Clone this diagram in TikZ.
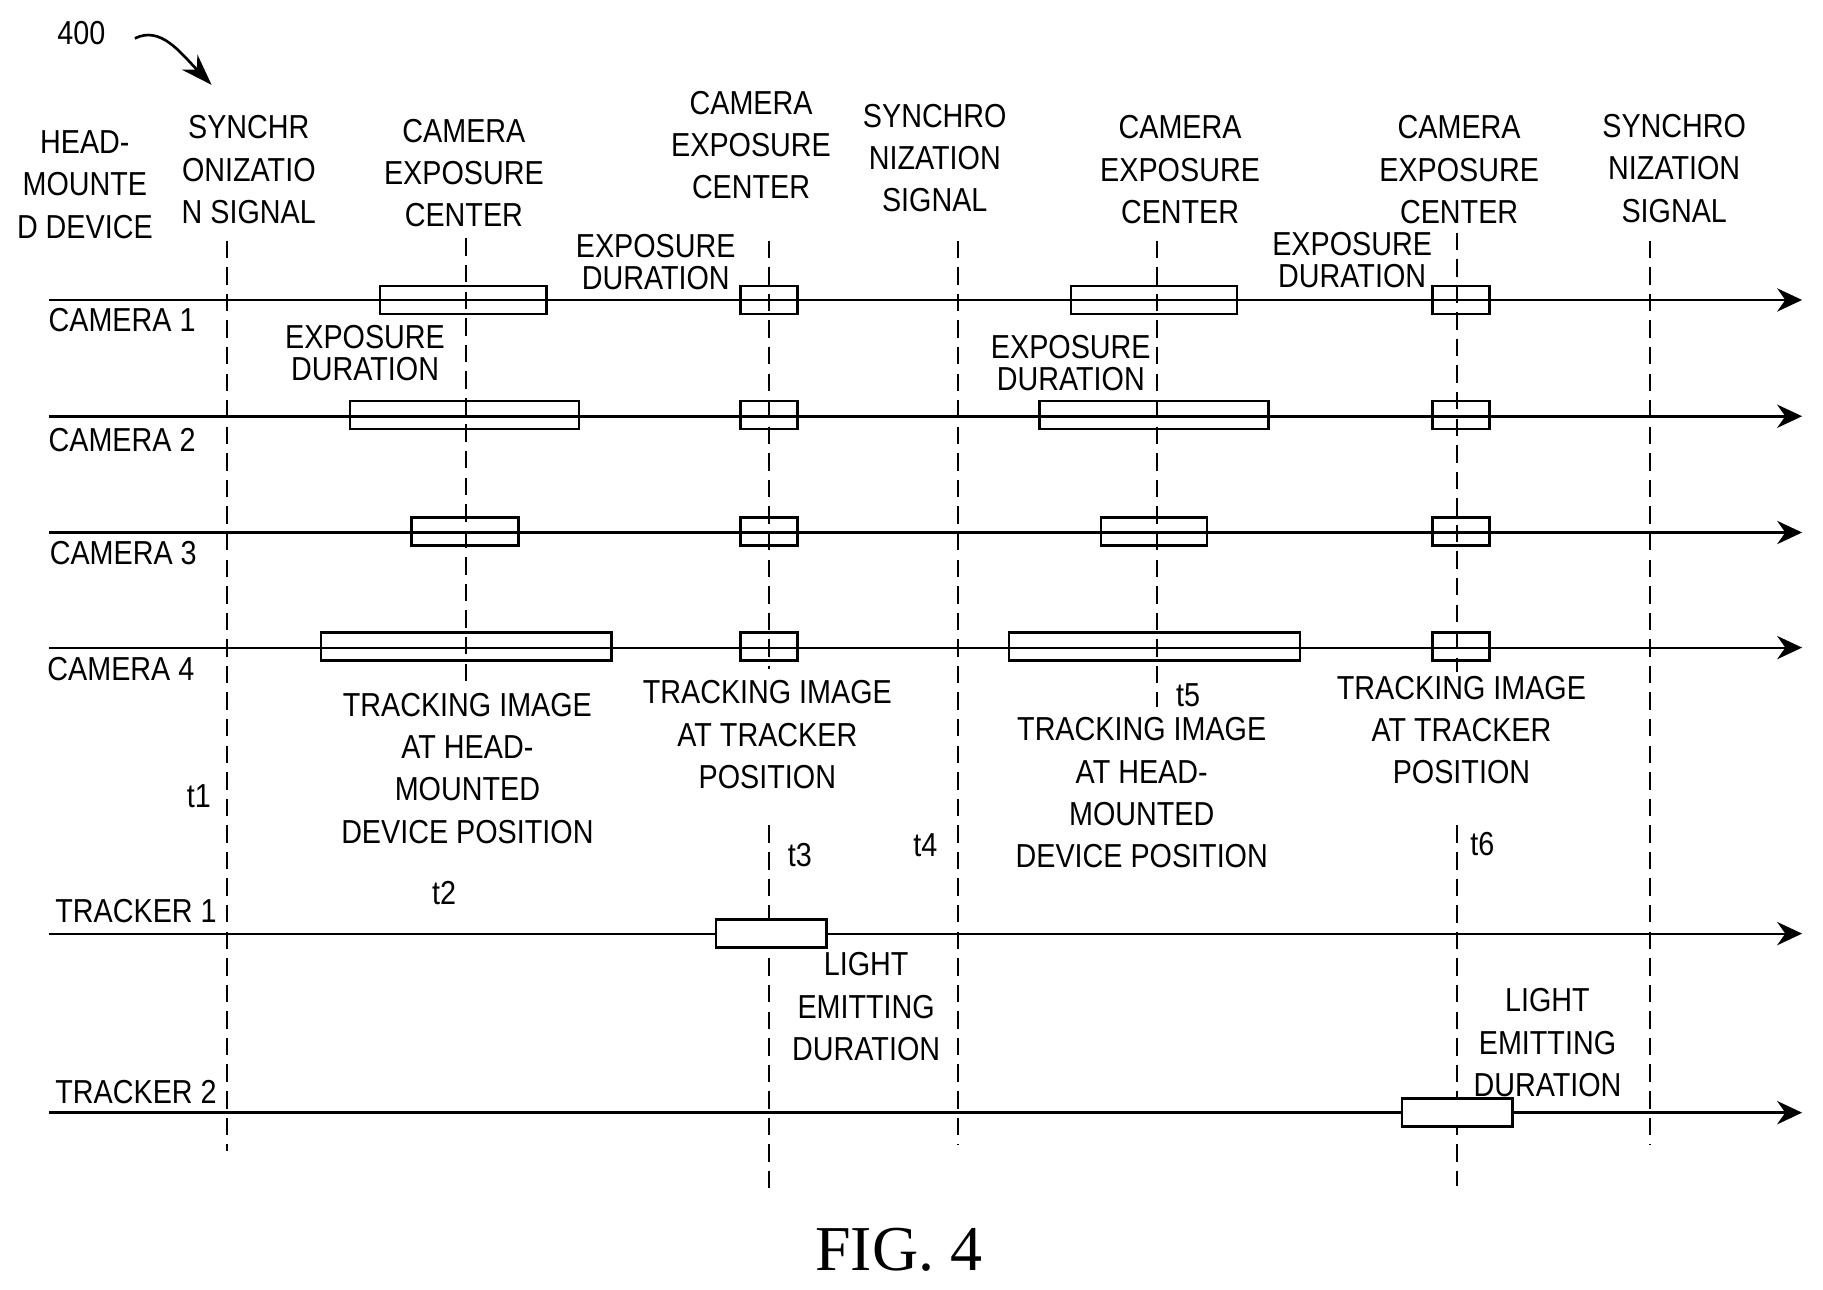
\documentclass[tikz,border=0pt]{standalone}
\usepackage{fontspec}
\usetikzlibrary{arrows.meta}
\setmainfont{Liberation Sans}
\newfontfamily\narrowsans[FakeStretch=0.865]{Liberation Sans}
\newfontfamily\figserif{Liberation Serif}
\tikzset{
  lbl/.style={inner sep=0pt,align=center,text=black,yshift=-0.6pt,font=\narrowsans\fontsize{20}{25.5}\selectfont},
  lbltight/.style={inner sep=0pt,align=center,text=black,yshift=-0.4pt,font=\narrowsans\fontsize{20}{19.2}\selectfont},
  timeline/.style={draw=black,line width=1.7pt,-{Stealth[length=15pt,width=14pt]}},
  thinline/.style={timeline,line width=1.3pt},
  marker/.style={draw=black,line width=1.2pt,dash pattern=on 10.5pt off 5.5pt},
  dbox/.style={draw=black,line width=1.5pt,inner sep=0pt,minimum height=16.8pt},
  tbox/.style={dbox,fill=white}
}
\newcommand{\durbox}[5][dbox]{\node[#1,minimum width={(#4-#3)*0.7pt}] (#2) at ({(#3+#4)/2},#5) {};}
\begin{document}
\begin{tikzpicture}[x=0.7pt,y=-0.7pt]
\useasboundingbox (0,0) rectangle (1568,1109.5);
\fill[white] (0,0) rectangle (1568,1109.5);
% row end points
\foreach \n/\y in {c1/258,c2/358,c3/458,c4/557,t1/803,t2/957}{
  \coordinate (\n s) at (42,\y);
  \coordinate (\n e) at (1550,\y);
}
% marker end points
\coordinate (sa) at (195,207); \coordinate (sb) at (195,990);
\coordinate (xa) at (401,205); \coordinate (xb) at (401,588);
\coordinate (ya) at (661,207); \coordinate (yb) at (661,575);
\coordinate (yc) at (661,710); \coordinate (yd) at (661,1025);
\coordinate (ra) at (824,207); \coordinate (rb) at (824,985);
\coordinate (ua) at (995,207); \coordinate (ub) at (995,608);
\coordinate (va) at (1253,200); \coordinate (vb) at (1253,578);
\coordinate (vc) at (1253,710); \coordinate (vd) at (1253,1020);
\coordinate (wa) at (1419,207); \coordinate (wb) at (1419,985);
\coordinate (arra) at (116,33); \coordinate (arrb) at (182,73);
% timelines
\draw[thinline] (c1s) -- (c1e);
\draw[timeline] (c2s) -- (c2e);
\draw[thinline] (c3s) -- (c3e);
\draw[thinline] (c4s) -- (c4e);
\draw[thinline] (t1s) -- (t1e);
\draw[timeline] (t2s) -- (t2e);
% exposure boxes
\durbox{b11}{327}{470}{258}
\durbox{b12}{637}{686}{258}
\durbox{b13}{921}{1064}{258}
\durbox{b14}{1232}{1281}{258}
\durbox{b21}{301}{498}{357}
\durbox{b22}{637}{686}{357}
\durbox{b23}{894}{1091}{357}
\durbox{b24}{1232}{1281}{357}
\durbox{b31}{354}{446}{457}
\durbox{b32}{637}{686}{457}
\durbox{b33}{947}{1038}{457}
\durbox{b34}{1232}{1281}{457}
\durbox{b41}{276}{526}{556}
\durbox{b42}{637}{686}{556}
\durbox{b43}{868}{1118}{556}
\durbox{b44}{1232}{1281}{556}
% vertical markers
\draw[marker] (sa) -- (sb);
\draw[marker] (xa) -- (xb);
\draw[marker] (ya) -- (yb);
\draw[marker] (yc) -- (yd);
\draw[marker] (ra) -- (rb);
\draw[marker] (ua) -- (ub);
\draw[marker] (va) -- (vb);
\draw[marker] (vc) -- (vd);
\draw[marker] (wa) -- (wb);
% tracker boxes
\durbox[tbox]{e1}{616}{711}{803}
\durbox[tbox]{e2}{1206}{1301}{957}
% reference arrow
\node[lbl] (ref) at (70,28) {400};
\draw[line width=1.6pt,-{Stealth[length=19pt,width=13pt]}] (arra) .. controls (138,22) and (155,45) .. (arrb);
% headers
\node[lbl] (hmd) at (73,158) {HEAD-\\MOUNTE\\D DEVICE};
\node[lbl] (s1) at (214,145) {SYNCHR\\ONIZATIO\\N SIGNAL};
\node[lbl] (cec1) at (399,148) {CAMERA\\EXPOSURE\\CENTER};
\node[lbl] (cec2) at (646,124) {CAMERA\\EXPOSURE\\CENTER};
\node[lbl] (s2) at (804,135) {SYNCHRO\\NIZATION\\SIGNAL};
\node[lbl] (cec3) at (1015,145) {CAMERA\\EXPOSURE\\CENTER};
\node[lbl] (cec4) at (1255,145) {CAMERA\\EXPOSURE\\CENTER};
\node[lbl] (s3) at (1440,144) {SYNCHRO\\NIZATION\\SIGNAL};
% exposure durations
\node[lbltight] (ed1) at (564,225) {EXPOSURE\\DURATION};
\node[lbltight] (ed2) at (314,303) {EXPOSURE\\DURATION};
\node[lbltight] (ed3) at (921,312) {EXPOSURE\\DURATION};
\node[lbltight] (ed4) at (1163,223) {EXPOSURE\\DURATION};
% row labels
\node[lbl] (l1) at (105,274) {CAMERA 1};
\node[lbl] (l2) at (105,378) {CAMERA 2};
\node[lbl] (l3) at (106,475) {CAMERA 3};
\node[lbl] (l4) at (104,575) {CAMERA 4};
\node[lbl] (l5) at (117,783) {TRACKER 1};
\node[lbl] (l6) at (117,938) {TRACKER 2};
% tracking images
\node[lbl] (ti1) at (402,660) {TRACKING IMAGE\\AT HEAD-\\MOUNTED\\DEVICE POSITION};
\node[lbl] (ti2) at (660,631) {TRACKING IMAGE\\AT TRACKER\\POSITION};
\node[lbl] (ti3) at (982,681) {TRACKING IMAGE\\AT HEAD-\\MOUNTED\\DEVICE POSITION};
\node[lbl] (ti4) at (1257,627) {TRACKING IMAGE\\AT TRACKER\\POSITION};
% times
\node[lbl] (t1) at (171,684) {t1};
\node[lbl] (t2) at (382,767) {t2};
\node[lbl] (t3) at (688,735) {t3};
\node[lbl] (t4) at (796,726) {t4};
\node[lbl] (t5) at (1022,597) {t5};
\node[lbl] (t6) at (1275,725) {t6};
% light durations
\node[lbl] (ld1) at (745,865) {LIGHT\\EMITTING\\DURATION};
\node[lbl] (ld2) at (1331,896) {LIGHT\\EMITTING\\DURATION};
% caption
\node[inner sep=0pt,font=\figserif\fontsize{38.5}{40}\selectfont] (fig) at (773,1075) {FIG. 4};
\end{tikzpicture}
\end{document}
